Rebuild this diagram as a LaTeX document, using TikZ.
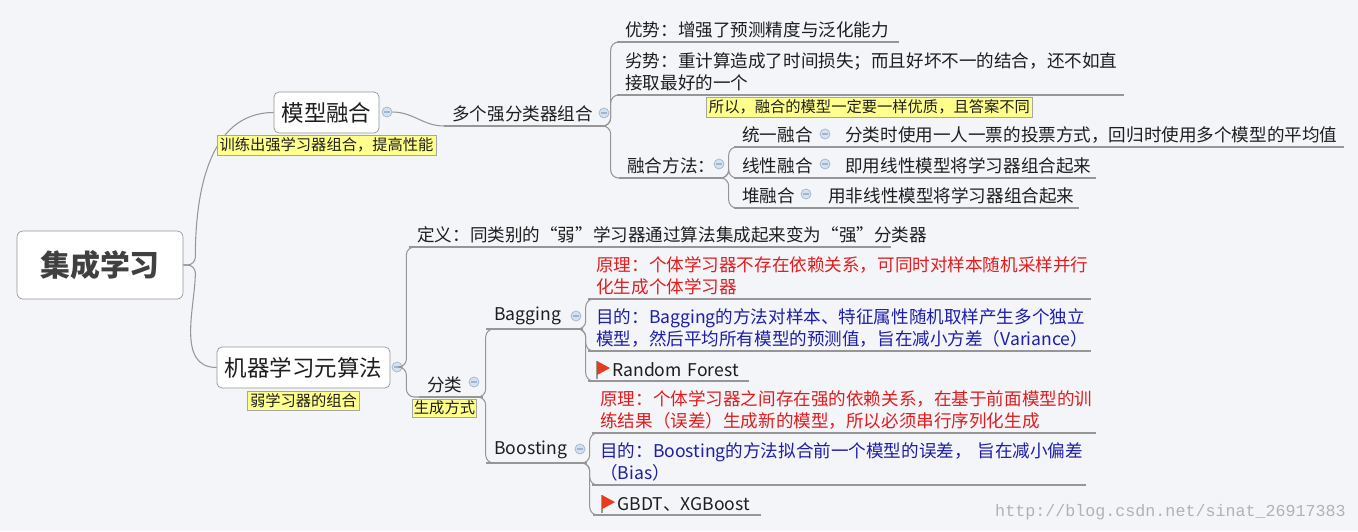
\documentclass[tikz,border=0pt]{standalone}
\usepackage{fontspec}
\setmainfont{Noto Sans CJK SC}
\newfontfamily\wmfont{Liberation Mono}
\usetikzlibrary{positioning,calc}
\definecolor{bgc}{RGB}{243,245,248}
\definecolor{linec}{RGB}{150,150,150}
\definecolor{txt}{RGB}{30,30,30}
\definecolor{redt}{RGB}{226,28,30}
\definecolor{bluet}{RGB}{30,30,170}
\definecolor{notey}{RGB}{255,255,140}
\definecolor{foldfill}{RGB}{214,225,238}
\definecolor{foldline}{RGB}{160,182,208}
\definecolor{flagred}{RGB}{230,60,30}

\tikzset{
  every node/.style={font=\fontsize{10}{12.5}\selectfont, text=txt},
  topic/.style={anchor=south west, inner xsep=0.16cm, inner ysep=2pt, align=left, text width=#1cm,
    append after command={(\tikzlastnode.south west) edge[draw=linec, line width=0.6pt] (\tikzlastnode.south east)}},
  branch/.style={draw=linec, line width=0.6pt, rounded corners=0.16cm},
  mainbox/.style={draw=linec, fill=white, rounded corners=0.1cm, font=\fontsize{12.8}{15}\selectfont, inner sep=0, minimum height=0.82cm},
  note/.style={draw=black!35, fill=notey, inner sep=1.5pt, font=\fontsize{8.7}{10}\selectfont},
  fold/.style={circle, draw=foldline, fill=foldfill, inner sep=0, minimum size=0.2cm,
    path picture={\draw[foldline, line width=0.6pt] ([xshift=-0.06cm]path picture bounding box.center) -- ([xshift=0.06cm]path picture bounding box.center);}},
}

\begin{document}
\begin{tikzpicture}[x=0.02cm, y=-0.02cm]
\fill[bgc] (0,0) rectangle (1358,531);
% main topics
\node[draw=linec, fill=white, rounded corners=0.12cm, minimum width=3.32cm, minimum height=1.36cm,
  font=\fontsize{17}{20}\selectfont\bfseries, text=black!75] (root) at (100,265) {集成学习};
\node[mainbox, minimum width=2.1cm] (mf) at (326.5,112.5) {模型融合};
\node[mainbox, minimum width=3.46cm] (jq) at (303.5,367.5) {机器学习元算法};
\node[fold] (fmf) at (387,112) {};
\node[fold] (fjq) at (397,367) {};
\draw[branch] (root.east) -- ++(12,0) to[out=90,in=180] (mf.west);
\draw[branch] (root.east) -- ++(12,0) to[out=-90,in=180] (jq.west);
\node[note] (nmf) at (326.5,145) {训练出强学习器组合，提高性能};
\node[note] (njq) at (303.5,401) {弱学习器的组合};

% model fusion side
\node[topic=2.8] (dg) at (444,126) {多个强分类器组合};
\node[fold] (fdg) at (604,113) {};
\draw[branch] (fmf.east) to[out=0,in=180] (dg.south west);
\node[topic=5.3] (ys) at (617,42) {优势：增强了预测精度与泛化能力};
\node[topic=9.8] (ls) at (617,95) {劣势：重计算造成了时间损失；而且好坏不一的结合，还不如直\\接取最好的一个};
\node[topic=1.74] (rh) at (619,178) {融合方法：};
\node[fold] (frh) at (719,164) {};
\node[note, anchor=north west] (nls) at (706,97) {所以，融合的模型一定要一样优质，且答案不同};
\foreach \c in {ys,ls,rh}
  \draw[branch] (dg.south east) -- ++(10,0) |- (\c.south west);
\node[topic=1.7] (ty) at (734,147) {统一融合};
\node[topic=1.7] (xx) at (734,178) {线性融合};
\node[topic=1.3] (dr) at (734,208) {堆融合};
\foreach \c in {ty,xx,dr}
  \draw[branch] (rh.south east) -- ++(6,0) |- (\c.south west);
\node[topic=9.8] (fy) at (837,147) {分类时使用一人一票的投票方式，回归时使用多个模型的平均值};
\node[topic=4.84] (lx) at (837,178) {即用线性模型将学习器组合起来};
\node[topic=4.84] (dx) at (820,208) {用非线性模型将学习器组合起来};
\node[fold] (fty) at (825,134) {};
\node[fold] (fxx) at (825,164) {};
\node[fold] (fdr) at (806,194) {};
\draw[draw=linec, line width=0.6pt] (ty.south east) -- (fy.south west);
\draw[draw=linec, line width=0.6pt] (xx.south east) -- (lx.south west);
\draw[draw=linec, line width=0.6pt] (dr.south east) -- (dx.south west);

% meta algorithm side
\node[topic=9.3] (dy) at (409,247) {定义：同类别的“弱”学习器通过算法集成起来变为“强”分类器};
\node[topic=0.94] (fl) at (419,397) {分类};
\node[fold] (ffl) at (474,382) {};
\foreach \c in {dy,fl}
  \draw[branch] (fjq.east) -- ++(4,0) |- (\c.south west);
\node[note, inner sep=1pt] (nfl) at (444.5,408) {生成方式};
\node[topic=1.6] (bg) at (486,329) {Bagging};
\node[topic=1.68] (bo) at (486,463) {Boosting};
\node[fold] (fbg) at (576,316) {};
\node[fold] (fbo) at (580,449) {};
\foreach \c in {bg,bo}
  \draw[branch] (fl.south east) -- ++(3,0) |- (\c.south west);
\node[topic=9.72, text=redt] (yl1) at (588,299) {原理：个体学习器不存在依赖关系，可同时对样本随机采样并行\\化生成个体学习器};
\node[topic=9.72, text=bluet] (md1) at (588,351) {目的：Bagging的方法对样本、特征属性随机取样产生多个独立\\模型，然后平均所有模型的预测值，旨在减小方差（Variance）};
\node[topic=2.88] (rf) at (588,381) {\hspace{0.32cm}Random Forest};
\foreach \c in {yl1,md1,rf}
  \draw[branch] (bg.south east) -- ++(3,0) |- (\c.south west);
\node[topic=9.74, text=redt] (yl2) at (592,433) {原理：个体学习器之间存在强的依赖关系，在基于前面模型的训\\练结果（误差）生成新的模型，所以必须串行序列化生成};
\node[topic=9.54, text=bluet] (md2) at (592,485) {\mbox{目的：Boosting的方法拟合前一个模型的误差， 旨在减小偏差}\\（Bias）};
\node[topic=3.02] (gb) at (593,515) {\hspace{0.32cm}GBDT、XGBoost};
\foreach \c in {yl2,md2,gb}
  \draw[branch] (bo.south east) -- ++(3,0) |- (\c.south west);
% flags
\foreach \c in {rf,gb} {
  \draw[black!40, line width=0.8pt] ($(\c.west)+(9,-9)$) -- ($(\c.west)+(9,9)$);
  \fill[flagred] ($(\c.west)+(9,-9)$) -- ($(\c.west)+(22,-2)$) -- ($(\c.west)+(9,5)$) -- cycle;
}
\node[anchor=east, font=\wmfont\fontsize{9.5}{11}\selectfont, text=black!30] (wm) at (1352,512) {http://blog.csdn.net/sinat\_26917383};
\end{tikzpicture}
\end{document}
